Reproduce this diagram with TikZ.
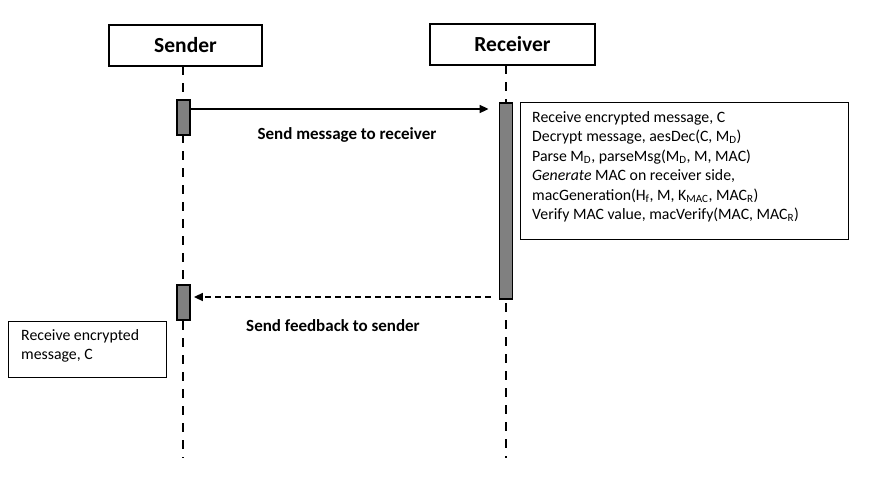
\documentclass[tikz,border=0pt]{standalone}
\usepackage{fontspec}
\setmainfont{Carlito}
\usetikzlibrary{arrows.meta}
\begin{document}
\begin{tikzpicture}[x=1pt,y=-1pt,
  actor/.style={draw,line width=2pt,minimum width=153pt,minimum height=41pt,font=\fontsize{21.5}{24}\selectfont\bfseries},
  life/.style={line width=2pt,dash pattern=on 9pt off 8pt},
  act/.style={draw,line width=1.8pt,fill=black!50,minimum width=13pt},
  note/.style={draw,line width=1pt},
  lbl/.style={font=\fontsize{17}{20}\selectfont\bfseries},
  body/.style={font=\fontsize{15.8}{19.5}\selectfont,align=left,anchor=north west,inner sep=0pt},
  msg/.style={line width=1.6pt,-{Triangle[length=9pt,width=8pt]}}]
\useasboundingbox (0,0) rectangle (878,488);
\fill[white] (0,0) rectangle (878,488);
% actors
\node[actor] (snd) at (185.5,45) {Sender};
\node[actor,minimum width=165pt] (rcv) at (512.5,44) {Receiver};
% lifelines
\coordinate (sEnd) at (183,458);
\coordinate (rEnd) at (506,458);
\draw[life] (183,66) -- (sEnd);
\draw[life] (506,65) -- (rEnd);
% activations
\node[act,minimum height=35pt] (sa1) at (183.5,117.5) {};
\node[act,minimum height=196pt] (ra1) at (506,201) {};
\node[act,minimum height=35pt] (sa2) at (183.5,302.5) {};
% messages
\coordinate (m1) at (sa1.east |- 0,109);
\draw[msg,shorten >=10pt] (m1) -- (ra1.west |- m1);
\node[lbl] (l1) at (347,135) {Send message to receiver};
\coordinate (m2) at (ra1.west |- 0,297);
\draw[msg,dash pattern=on 6pt off 4pt,shorten <=8pt,shorten >=3pt] (m2) -- (sa2.east |- m2);
\node[lbl] (l2) at (333,326) {Send feedback to sender};
% notes
\node[note,minimum width=328pt,minimum height=137pt,anchor=north west] (n1) at (520,102) {};
\node[body] (t1) at (532,111) {Receive encrypted message, C\\
Decrypt message, aesDec(C, M\textsubscript{D})\\
Parse M\textsubscript{D}, parseMsg(M\textsubscript{D}, M, MAC)\\
\textit{Generate} MAC on receiver side,\\
macGeneration(H\textsubscript{f}, M, K\textsubscript{MAC}, MAC\textsubscript{R})\\
Verify MAC value, macVerify(MAC, MAC\textsubscript{R})};
\node[note,minimum width=158pt,minimum height=56pt,anchor=north west] (n2) at (8,321) {};
\node[body] (t2) at (21,329) {Receive encrypted\\message, C};
\end{tikzpicture}
\end{document}
